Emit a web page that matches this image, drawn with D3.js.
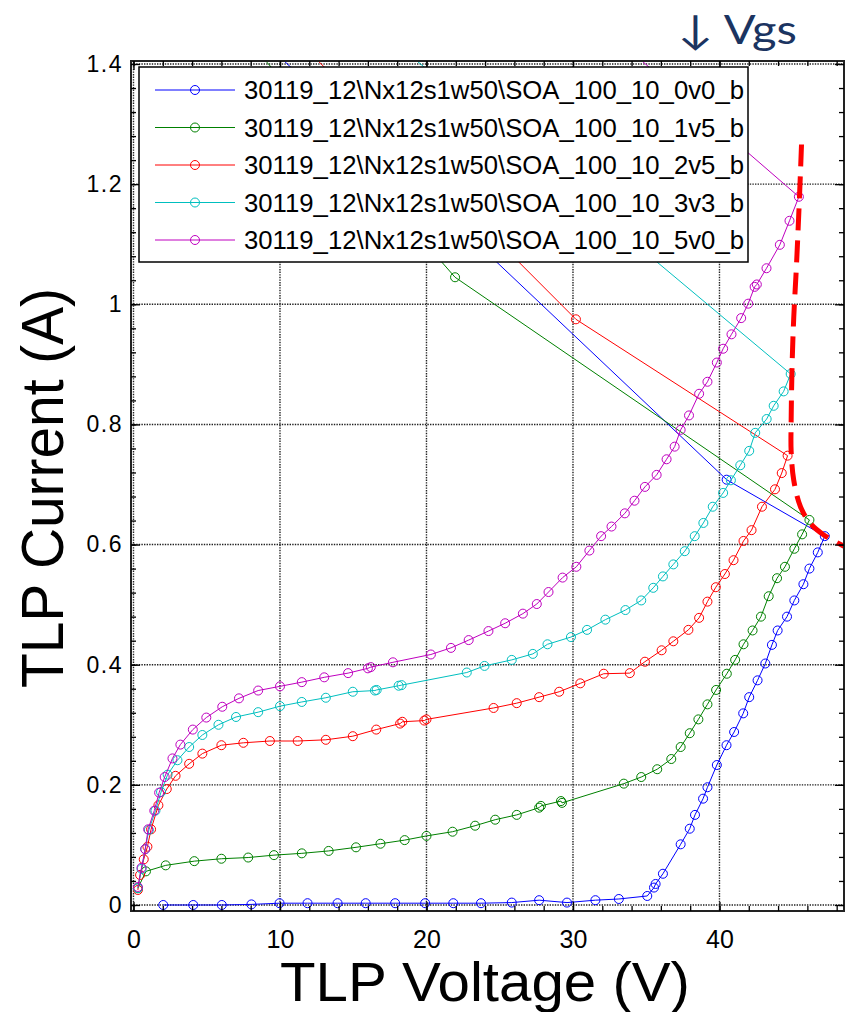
<!DOCTYPE html>
<html>
<head>
<meta charset="utf-8">
<script src="https://cdn.jsdelivr.net/npm/d3@7"></script>
<style>
  body { margin: 0; background: #fff; }
  svg { display: block; }
</style>
</head>
<body>
<div id="chart"></div>
<script>
// legend labels, one per gate bias
const seriesNames = [
    "30119_12\\Nx12s1w50\\SOA_100_10_0v0_b",
    "30119_12\\Nx12s1w50\\SOA_100_10_1v5_b",
    "30119_12\\Nx12s1w50\\SOA_100_10_2v5_b",
    "30119_12\\Nx12s1w50\\SOA_100_10_3v3_b",
    "30119_12\\Nx12s1w50\\SOA_100_10_5v0_b"
];
const seriesColors = ["#0000ff", "#008000", "#ff0000", "#00bfbf", "#bf00bf"];

// TLP voltage (V) / current (A)
const volt0v0 = [2.03,4.08,6.03,8.05,9.97,11.88,13.93,15.85,17.86,19.91,21.83,23.72,25.82,27.69,29.59,31.53,33.13,35.07,35.53,35.64,36.14,37.35,37.97,38.33,38.88,39.18,39.82,40.48,41.0,41.62,42.03,42.60,43.13,43.58,43.97,44.61,45.11,45.73,46.14,46.71,47.19,40.49,5.0];
const curr0v0 = [0.000,0.000,0.000,0.001,0.003,0.003,0.003,0.003,0.003,0.003,0.003,0.003,0.004,0.008,0.004,0.008,0.010,0.015,0.029,0.035,0.052,0.101,0.127,0.150,0.177,0.196,0.233,0.266,0.288,0.319,0.346,0.374,0.402,0.433,0.457,0.480,0.507,0.534,0.560,0.587,0.614,0.708,1.527];

const volt1v5 = [0.3,0.85,2.2,4.15,6.0,7.83,9.59,11.49,13.32,15.19,16.86,18.51,20.0,21.78,23.32,24.69,26.16,27.69,27.81,29.18,29.25,33.47,34.66,35.75,36.71,37.35,37.97,38.56,39.18,39.77,40.50,41.07,41.64,42.26,42.83,43.36,43.93,44.47,45.11,45.64,46.14,21.95,2.0];
const curr1v5 = [0.028,0.056,0.066,0.073,0.077,0.079,0.083,0.086,0.090,0.096,0.102,0.108,0.115,0.122,0.132,0.142,0.150,0.162,0.165,0.173,0.170,0.202,0.213,0.226,0.243,0.263,0.286,0.309,0.334,0.358,0.385,0.408,0.434,0.457,0.480,0.514,0.544,0.563,0.593,0.617,0.641,1.045,1.601];

const volt2v5 = [0.3,0.45,0.7,0.95,1.2,1.7,2.27,2.87,3.8,4.7,6.0,7.5,9.31,11.21,13.13,14.97,16.57,18.2,18.35,19.85,20.0,24.58,26.16,27.69,29.06,30.50,32.10,33.88,34.91,36.05,36.85,37.88,38.61,39.18,39.75,40.37,40.96,41.64,42.19,42.90,43.79,44.25,44.65,30.2,5.0];
const curr2v5 = [0.025,0.050,0.076,0.097,0.126,0.166,0.193,0.215,0.235,0.252,0.266,0.270,0.273,0.273,0.275,0.281,0.292,0.302,0.305,0.307,0.309,0.328,0.336,0.346,0.355,0.369,0.385,0.386,0.405,0.424,0.439,0.458,0.478,0.505,0.529,0.551,0.574,0.606,0.624,0.663,0.692,0.719,0.748,0.975,1.591];

const volt3v3 = [0.3,0.55,0.8,1.05,1.5,1.88,2.33,3.0,3.8,4.7,5.8,7.0,8.51,10.0,11.49,13.13,14.97,16.48,16.6,18.1,18.3,22.75,23.96,25.82,27.26,28.26,29.86,30.96,32.21,33.58,34.66,35.48,36.14,36.85,37.63,38.31,38.90,39.54,40.25,40.78,41.42,42.03,42.44,43.22,43.70,44.38,44.86,10.0];
const curr3v3 = [0.028,0.060,0.093,0.125,0.157,0.188,0.217,0.241,0.263,0.283,0.300,0.313,0.321,0.331,0.338,0.345,0.355,0.357,0.358,0.365,0.366,0.387,0.398,0.408,0.418,0.434,0.446,0.458,0.475,0.491,0.507,0.528,0.547,0.567,0.589,0.614,0.636,0.663,0.686,0.707,0.732,0.756,0.786,0.809,0.831,0.855,0.884,1.596];

const volt5v0 = [0.3,0.55,0.8,1.0,1.42,1.75,2.13,2.66,3.2,4.05,4.97,6.06,7.2,8.51,10.0,11.49,13.02,14.65,16.0,16.2,17.71,20.30,21.67,22.88,24.23,25.37,26.58,27.53,28.33,29.29,30.23,31.12,31.92,32.63,33.54,34.20,34.91,35.71,36.39,36.94,37.35,37.92,38.61,39.18,39.82,40.25,40.82,41.48,41.96,42.40,42.55,43.21,44.12,44.78,45.42,25.0];
const curr5v0 = [0.030,0.062,0.093,0.126,0.157,0.187,0.213,0.244,0.267,0.292,0.312,0.330,0.344,0.357,0.364,0.371,0.379,0.386,0.394,0.396,0.404,0.417,0.428,0.441,0.456,0.469,0.485,0.501,0.521,0.545,0.563,0.590,0.614,0.630,0.652,0.673,0.696,0.716,0.742,0.763,0.791,0.815,0.851,0.871,0.903,0.926,0.950,0.977,1.001,1.029,1.033,1.060,1.099,1.139,1.179,1.610];

// hand drawn SOA boundary (red dashed)
const boundVolt = [45.6,45.46,45.26,45.07,44.96,44.89,44.89,45.07,45.53,46.21,47.12,48.37,48.7];
const boundCurr = [1.266,1.178,1.067,0.978,0.901,0.801,0.757,0.707,0.663,0.635,0.616,0.599,0.595];

// ticks
const xMajor = [0, 10, 20, 30, 40];
const xMinor = d3.range(0, 49, 2);
const yMajor = [0, 0.2, 0.4, 0.6, 0.8, 1.0, 1.2, 1.4];
const yMinor = d3.range(0, 1.41, 0.04);

const volts = [volt0v0, volt1v5, volt2v5, volt3v3, volt5v0];
const currs = [curr0v0, curr1v5, curr2v5, curr3v3, curr5v0];

// build series
let series = seriesNames.map((name, k) => ({
    name: name,
    color: seriesColors[k],
    points: volts[k].map((v, i) => ({v: v, c: currs[k][i]}))
}));

let width = 846;
let height = 1012;
let plot = {left: 131, right: 844, top: 61, bottom: 911};

let svg = d3.select("#chart")
            .append("svg")
            .attr("width", width)
            .attr("height", height)
            .style("font-family", "'Liberation Sans', Arial, sans-serif");

let xScale = d3.scaleLinear().domain([-0.17, 48.5]).range([plot.left, plot.right]);
let yScale = d3.scaleLinear().domain([-0.01, 1.405]).range([plot.bottom, plot.top]);

svg.append("defs").append("clipPath")
    .attr("id", "plotClip")
    .append("rect")
    .attr("x", plot.left)
    .attr("y", plot.top)
    .attr("width", plot.right - plot.left)
    .attr("height", plot.bottom - plot.top);

// dotted grid
let grid = svg.append("g")
    .attr("stroke", "#222")
    .attr("stroke-width", 1.4)
    .attr("stroke-dasharray", "1.4,1.2");

grid.selectAll(".gx")
    .data(xMajor)
    .enter()
    .append("line")
    .attr("x1", d => xScale(d)).attr("x2", d => xScale(d))
    .attr("y1", plot.top).attr("y2", plot.bottom);

grid.selectAll(".gy")
    .data(yMajor)
    .enter()
    .append("line")
    .attr("x1", plot.left).attr("x2", plot.right)
    .attr("y1", d => yScale(d)).attr("y2", d => yScale(d));

// data
let dataGroup = svg.append("g").attr("clip-path", "url(#plotClip)");

let line = d3.line()
    .x(d => xScale(d.v))
    .y(d => yScale(d.c));

series.forEach(s => {
    dataGroup.append("path")
        .datum(s.points)
        .attr("d", line)
        .attr("fill", "none")
        .attr("stroke", s.color)
        .attr("stroke-width", 1);

    dataGroup.selectAll(null)
        .data(s.points)
        .enter()
        .append("circle")
        .attr("cx", d => xScale(d.v))
        .attr("cy", d => yScale(d.c))
        .attr("r", 4.5)
        .attr("fill", "none")
        .attr("stroke", s.color)
        .attr("stroke-width", 1);
});

// red dashed boundary
let bound = boundVolt.map((v, i) => ({v: v, c: boundCurr[i]}));
dataGroup.append("path")
    .datum(bound)
    .attr("d", line.curve(d3.curveCatmullRom))
    .attr("fill", "none")
    .attr("stroke", "#ff0000")
    .attr("stroke-width", 5)
    .attr("stroke-dasharray", "22,10");

// frame
svg.append("rect")
    .attr("x", plot.left)
    .attr("y", plot.top)
    .attr("width", plot.right - plot.left)
    .attr("height", plot.bottom - plot.top)
    .attr("fill", "none")
    .attr("stroke", "#222")
    .attr("stroke-width", 2);

// inward ticks on all four sides
function styleAxis(g) {
    g.select(".domain").remove();
    g.selectAll(".tick line").attr("stroke", "#000").attr("stroke-width", 1.3);
}

svg.append("g").attr("transform", `translate(0, ${plot.bottom})`)
    .call(d3.axisBottom(xScale).tickValues(xMinor).tickSize(-5).tickFormat(""))
    .call(styleAxis);
svg.append("g").attr("transform", `translate(0, ${plot.top})`)
    .call(d3.axisTop(xScale).tickValues(xMinor).tickSize(-5).tickFormat(""))
    .call(styleAxis);
svg.append("g").attr("transform", `translate(${plot.left}, 0)`)
    .call(d3.axisLeft(yScale).tickValues(yMinor).tickSize(-5).tickFormat(""))
    .call(styleAxis);
svg.append("g").attr("transform", `translate(${plot.right}, 0)`)
    .call(d3.axisRight(yScale).tickValues(yMinor).tickSize(-5).tickFormat(""))
    .call(styleAxis);

let xAxis = svg.append("g").attr("transform", `translate(0, ${plot.bottom})`)
    .call(d3.axisBottom(xScale).tickValues(xMajor).tickSize(-9).tickPadding(19).tickFormat(d3.format("d")))
    .call(styleAxis);
xAxis.selectAll("text")
    .attr("font-size", 25)
    .attr("font-family", "'Liberation Sans', Arial, sans-serif")
    .attr("fill", "#000");

svg.append("g").attr("transform", `translate(0, ${plot.top})`)
    .call(d3.axisTop(xScale).tickValues(xMajor).tickSize(-9).tickFormat(""))
    .call(styleAxis);

let yAxis = svg.append("g").attr("transform", `translate(${plot.left}, 0)`)
    .call(d3.axisLeft(yScale).tickValues(yMajor).tickSize(-9).tickPadding(8).tickFormat(d => String(+d.toFixed(1))))
    .call(styleAxis);
yAxis.selectAll("text")
    .attr("font-size", 23)
    .attr("letter-spacing", 1.5)
    .attr("font-family", "'Liberation Sans', Arial, sans-serif")
    .attr("fill", "#000");

svg.append("g").attr("transform", `translate(${plot.right}, 0)`)
    .call(d3.axisRight(yScale).tickValues(yMajor).tickSize(-9).tickFormat(""))
    .call(styleAxis);

// legend
let legend = svg.append("g").attr("transform", "translate(139, 67)");
legend.append("rect")
    .attr("width", 609)
    .attr("height", 195)
    .attr("fill", "#fff")
    .attr("stroke", "#000")
    .attr("stroke-width", 1.5);

let rows = legend.selectAll(".row")
    .data(series)
    .enter()
    .append("g")
    .attr("transform", (d, i) => `translate(0, ${23 + i * 37.5})`);

rows.append("line")
    .attr("x1", 16).attr("x2", 96)
    .attr("stroke", d => d.color)
    .attr("stroke-width", 1);
rows.append("circle")
    .attr("cx", 56)
    .attr("r", 4.5)
    .attr("fill", "none")
    .attr("stroke", d => d.color);
rows.append("text")
    .attr("x", 105)
    .attr("y", 9)
    .attr("font-size", 25)
    .attr("textLength", 500)
    .attr("lengthAdjust", "spacingAndGlyphs")
    .text(d => d.name);

// axis titles
svg.append("text")
    .attr("x", 485)
    .attr("y", 1001)
    .attr("text-anchor", "middle")
    .attr("font-size", 56)
    .attr("textLength", 410)
    .attr("lengthAdjust", "spacingAndGlyphs")
    .text("TLP Voltage (V)");

svg.append("text")
    .attr("transform", "translate(63, 488) rotate(-90)")
    .attr("text-anchor", "middle")
    .attr("font-size", 60)
    .attr("textLength", 400)
    .attr("lengthAdjust", "spacingAndGlyphs")
    .text("TLP Current (A)");

// Vgs annotation
svg.append("text")
    .attr("x", 678)
    .attr("y", 44)
    .attr("font-size", 40)
    .attr("font-family", "Lato, 'Open Sans', sans-serif")
    .attr("fill", "#1b3461")
    .attr("textLength", 119)
    .attr("lengthAdjust", "spacingAndGlyphs")
    .text("\u2193 Vgs");
</script>
</body>
</html>
